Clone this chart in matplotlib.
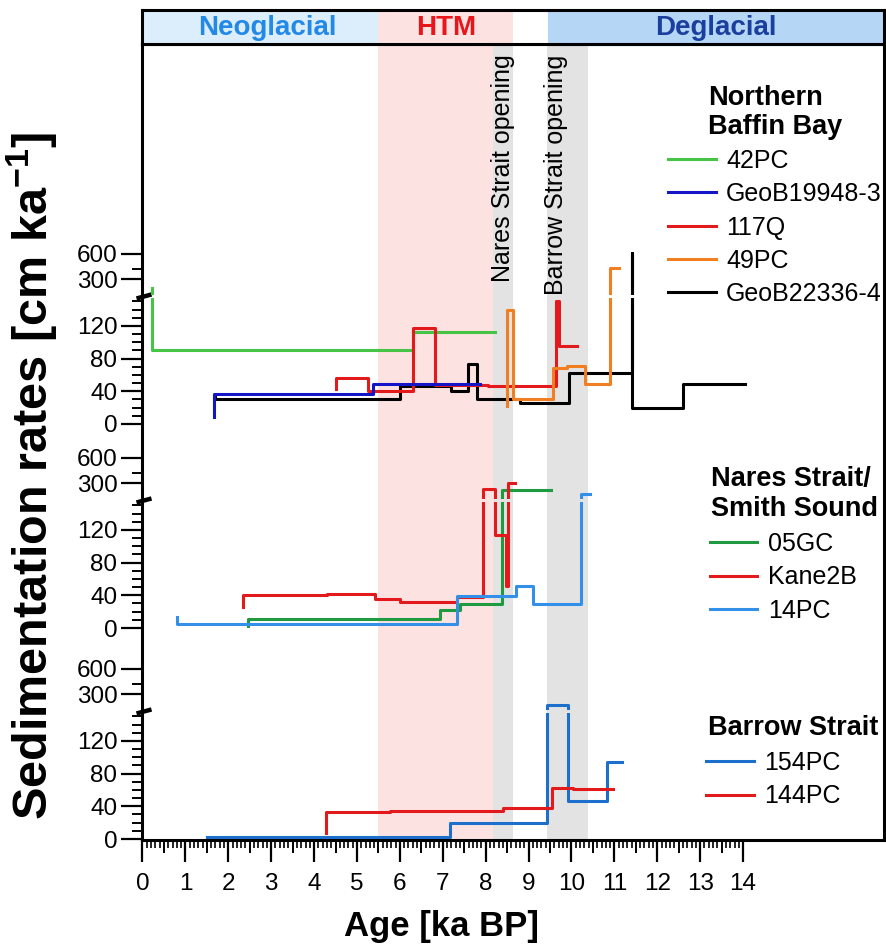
import numpy as np
import matplotlib
matplotlib.use('Agg')
import matplotlib.pyplot as plt
from matplotlib.ticker import FixedLocator, NullFormatter, FixedFormatter

plt.rcParams['font.family'] = ['Liberation Sans', 'DejaVu Sans']
plt.rcParams['mathtext.fontset'] = 'custom'
plt.rcParams['mathtext.rm'] = 'Liberation Sans:bold'
plt.rcParams['mathtext.bf'] = 'Liberation Sans:bold'
plt.rcParams['mathtext.default'] = 'bf'

# ---------------- data (age in ka BP, sedimentation rate in cm/ka) ----------------
# Northern Baffin Bay
age_42PC = [0.21, 0.21, 6.31, 8.22]
rate_42PC = [235, 90, 113, 113]
age_GeoB19948 = [1.67, 1.67, 5.37, 7.87]
rate_GeoB19948 = [8, 37, 49, 49]
age_117Q = [4.51, 4.51, 5.26, 6.31, 6.82, 8.06, 9.65, 9.72, 10.12]
rate_117Q = [43, 56, 40, 117, 48, 47, 150, 95, 95]
age_49PC = [8.49, 8.49, 8.64, 9.58, 9.89, 10.31, 10.90, 11.11]
rate_49PC = [22, 140, 31, 69, 71, 49, 404, 404]
age_GeoB22336 = [1.69, 1.69, 3.13, 6.00, 7.19, 7.59, 7.80, 8.80, 9.95, 11.40, 11.40, 12.60, 14.04]
rate_GeoB22336 = [36, 31, 30, 47, 41, 74, 31, 26, 62, 620, 20, 49, 49]

# Nares Strait / Smith Sound
age_05GC = [2.47, 2.47, 6.93, 7.41, 8.38, 9.53]
rate_05GC = [3, 11, 22, 29, 246, 246]
age_Kane2B = [2.35, 2.35, 4.29, 5.42, 6.00, 7.32, 7.94, 8.22, 8.47, 8.52, 8.68]
rate_Kane2B = [26, 40, 42, 35, 32, 38, 257, 114, 52, 300, 300]
age_14PC = [0.80, 0.80, 7.32, 8.71, 9.11, 10.22, 10.43]
rate_14PC = [13, 5, 39, 51, 29, 225, 225]

# Barrow Strait
age_154PC = [1.50, 7.17, 9.42, 9.93, 10.82, 11.17]
rate_154PC = [3, 19, 220, 47, 94, 94]
age_144PC = [4.28, 4.28, 5.77, 8.41, 9.54, 10.04, 10.97]
rate_144PC = [7, 33, 34, 38, 63, 61, 61]

# periods / events (ka BP)
neoglacial = (0.0, 5.5)
htm_header = (5.5, 8.64)
htm_body = (5.5, 8.18)
nares_opening = (8.18, 8.64)
barrow_opening = (9.42, 10.39)
deglacial_start = 9.45

x_major = list(range(0, 15))
y_major_low = [0, 40, 80, 120]
y_major_up = [300, 600]
y_minor_up = [400]

# ---------------- layout ----------------
W, H, DPI = 887, 947, 100
fig = plt.figure(figsize=(W / DPI, H / DPI), dpi=DPI)


def rect(x0, ytop, x1, ybot):
    return [x0 / W, 1 - ybot / H, (x1 - x0) / W, (ybot - ytop) / H]


XL, XR = 142.5, 884.0
PX_PER_KA = 42.9
XMAX = (XR - XL) / PX_PER_KA
LW_FRAME = 2.2
LW_DATA = 2.2

# body axes (background, spans, x axis)
ax = fig.add_axes(rect(XL, 44, XR, 840))
ax.set_xlim(0, XMAX)
ax.set_ylim(0, 1)
ax.set_yticks([])
ax.axvspan(*htm_body, color='#fde2e2', lw=0, zorder=0)
ax.axvspan(*nares_opening, color='#e3e3e3', lw=0, zorder=0)
ax.axvspan(*barrow_opening, color='#e3e3e3', lw=0, zorder=0)
for sp in ax.spines.values():
    sp.set_linewidth(LW_FRAME)
ax.set_xticks(x_major)
ax.set_xticklabels([str(v) for v in x_major])
minor = [v / 10 for v in range(0, 141) if v % 5 != 0]
ax.xaxis.set_minor_locator(FixedLocator(minor))
ax.tick_params(axis='x', which='major', direction='out', length=15.5, width=1.6,
               labelsize=17.5, pad=8)
ax.tick_params(axis='x', which='minor', direction='out', length=5.5, width=1.2)
sec = ax.secondary_xaxis('bottom')
sec.set_xticks([v + 0.5 for v in range(0, 14)])
sec.xaxis.set_major_formatter(NullFormatter())
sec.tick_params(axis='x', direction='out', length=9.5, width=1.4)
sec.spines['bottom'].set_visible(False)

bt = ax.get_xaxis_transform()
ax.text(sum(nares_opening) / 2, 0.987, 'Nares Strait opening', rotation=90,
        ha='center', va='top', fontsize=18, transform=bt)
ax.text(9.65, 0.987, 'Barrow Strait opening', rotation=90,
        ha='center', va='top', fontsize=18, transform=bt)

# header axes
axh = fig.add_axes(rect(XL, 10, XR, 44))
axh.set_xlim(0, XMAX)
axh.set_ylim(0, 1)
axh.set_xticks([])
axh.set_yticks([])
axh.axvspan(*neoglacial, color='#dcedfc', lw=0)
axh.axvspan(*htm_header, color='#fde2e2', lw=0)
axh.axvspan(deglacial_start, XMAX, color='#b6d6f6', lw=0)
for sp in axh.spines.values():
    sp.set_linewidth(LW_FRAME)
axh.text(2.9, 0.47, 'Neoglacial', color='#2389e6', fontsize=20,
         fontweight='bold', ha='center', va='center')
axh.text(sum(htm_header) / 2, 0.47, 'HTM', color='#e8161b', fontsize=20,
         fontweight='bold', ha='center', va='center')
axh.text((deglacial_start + XMAX) / 2, 0.47, 'Deglacial', color='#1a3f9c',
         fontsize=20, fontweight='bold', ha='center', va='center')

# broken-axis panels
LOW_MAX, UP_MIN, UP_MAX = 154.0, 195.0, 1000.0
PPU = 0.8167      # px per cm/ka in the linear part
PPD = 25.3        # px per doubling in the log part
GAP = 3.5


def make_panel(zero_px):
    low_top = zero_px - LOW_MAX * PPU
    up_bot = low_top - GAP
    up_top = up_bot - PPD * np.log2(UP_MAX / UP_MIN)
    a_low = fig.add_axes(rect(XL, low_top, XR, zero_px))
    a_up = fig.add_axes(rect(XL, up_top, XR, up_bot))
    for a in (a_low, a_up):
        a.set_facecolor('none')
        a.set_xlim(0, XMAX)
        for sp in a.spines.values():
            sp.set_visible(False)
        a.set_xticks([])
        a.tick_params(axis='y', which='major', direction='out', length=15,
                      width=1.6, labelsize=17.5, pad=3)
        a.tick_params(axis='y', which='minor', direction='out', length=7,
                      width=1.4)
    a_low.set_ylim(0, LOW_MAX)
    a_low.yaxis.set_major_locator(FixedLocator(y_major_low))
    a_low.yaxis.set_major_formatter(FixedFormatter([str(v) for v in y_major_low]))
    a_low.yaxis.set_minor_locator(FixedLocator(
        [v for v in range(10, 151, 10) if v % 40 != 0]))
    a_up.set_yscale('log')
    a_up.set_ylim(UP_MIN, UP_MAX)
    a_up.yaxis.set_major_locator(FixedLocator(y_major_up))
    a_up.yaxis.set_major_formatter(FixedFormatter([str(v) for v in y_major_up]))
    a_up.yaxis.set_minor_locator(FixedLocator(y_minor_up))
    a_up.yaxis.set_minor_formatter(NullFormatter())
    # break mark on the axis
    wpx = XR - XL
    hpx = LOW_MAX * PPU
    a_low.plot([-6 / wpx, 9 / wpx],
               [1 + (GAP / 2 - 2.0) / hpx, 1 + (GAP / 2 + 2.0) / hpx],
               transform=a_low.transAxes, color='black', lw=3.2,
               clip_on=False, solid_capstyle='butt')
    return a_low, a_up


def draw(axes, x, y, color, label):
    handle = None
    for a in axes:
        (ln,) = a.plot(x, y, drawstyle='steps-post', color=color, lw=LW_DATA,
                       label=label)
        handle = handle or ln
    return handle


top = make_panel(424)
mid = make_panel(628)
bot = make_panel(839)

c42, cG19, c117, c49, cG22 = '#46c446', '#1515c8', '#e31a1c', '#f17f22', '#000000'
h_G22 = draw(top, age_GeoB22336, rate_GeoB22336, cG22, 'GeoB22336-4')
h_42 = draw(top, age_42PC, rate_42PC, c42, '42PC')
h_117 = draw(top, age_117Q, rate_117Q, c117, '117Q')
h_49 = draw(top, age_49PC, rate_49PC, c49, '49PC')
h_G19 = draw(top, age_GeoB19948, rate_GeoB19948, cG19, 'GeoB19948-3')

c05, cK2, c14 = '#1f9a40', '#e31a1c', '#3390e8'
h_05 = draw(mid, age_05GC, rate_05GC, c05, '05GC')
h_K2 = draw(mid, age_Kane2B, rate_Kane2B, cK2, 'Kane2B')
h_14 = draw(mid, age_14PC, rate_14PC, c14, '14PC')

c154, c144 = '#1c6fcb', '#e31a1c'
h_154 = draw(bot, age_154PC, rate_154PC, c154, '154PC')
h_144 = draw(bot, age_144PC, rate_144PC, c144, '144PC')

# legends
leg_kw = dict(loc='upper left', frameon=False, fontsize=18, handlelength=1.9,
              handletextpad=0.42, labelspacing=0.37, borderpad=0, borderaxespad=0)
fig.legend(handles=[h_42, h_G19, h_117, h_49, h_G22],
           bbox_to_anchor=(668 / W, 1 - 149 / H), **leg_kw)
fig.legend(handles=[h_05, h_K2, h_14],
           bbox_to_anchor=(710 / W, 1 - 532 / H), **leg_kw)
fig.legend(handles=[h_154, h_144],
           bbox_to_anchor=(706.5 / W, 1 - 751 / H), **leg_kw)

fig.text(708 / W, 1 - 85 / H, 'Northern\nBaffin Bay', fontsize=19.5, fontweight='bold',
         ha='left', va='top', linespacing=1.15)
fig.text(711 / W, 1 - 466 / H, 'Nares Strait/\nSmith Sound', fontsize=19.5,
         fontweight='bold', ha='left', va='top', linespacing=1.22)
fig.text(708 / W, 1 - 715 / H, 'Barrow Strait', fontsize=19.5, fontweight='bold',
         ha='left', va='top')

# axis labels
fig.text(32 / W, 1 - 476 / H, 'Sedimentation rates [cm ka$^{-1}$]', rotation=90,
         fontsize=35, fontweight='bold', ha='center', va='center')
fig.text(441.5 / W, 1 - 926 / H, 'Age [ka BP]', fontsize=25, fontweight='bold',
         ha='center', va='center')

fig.savefig('out.png', dpi=DPI)
